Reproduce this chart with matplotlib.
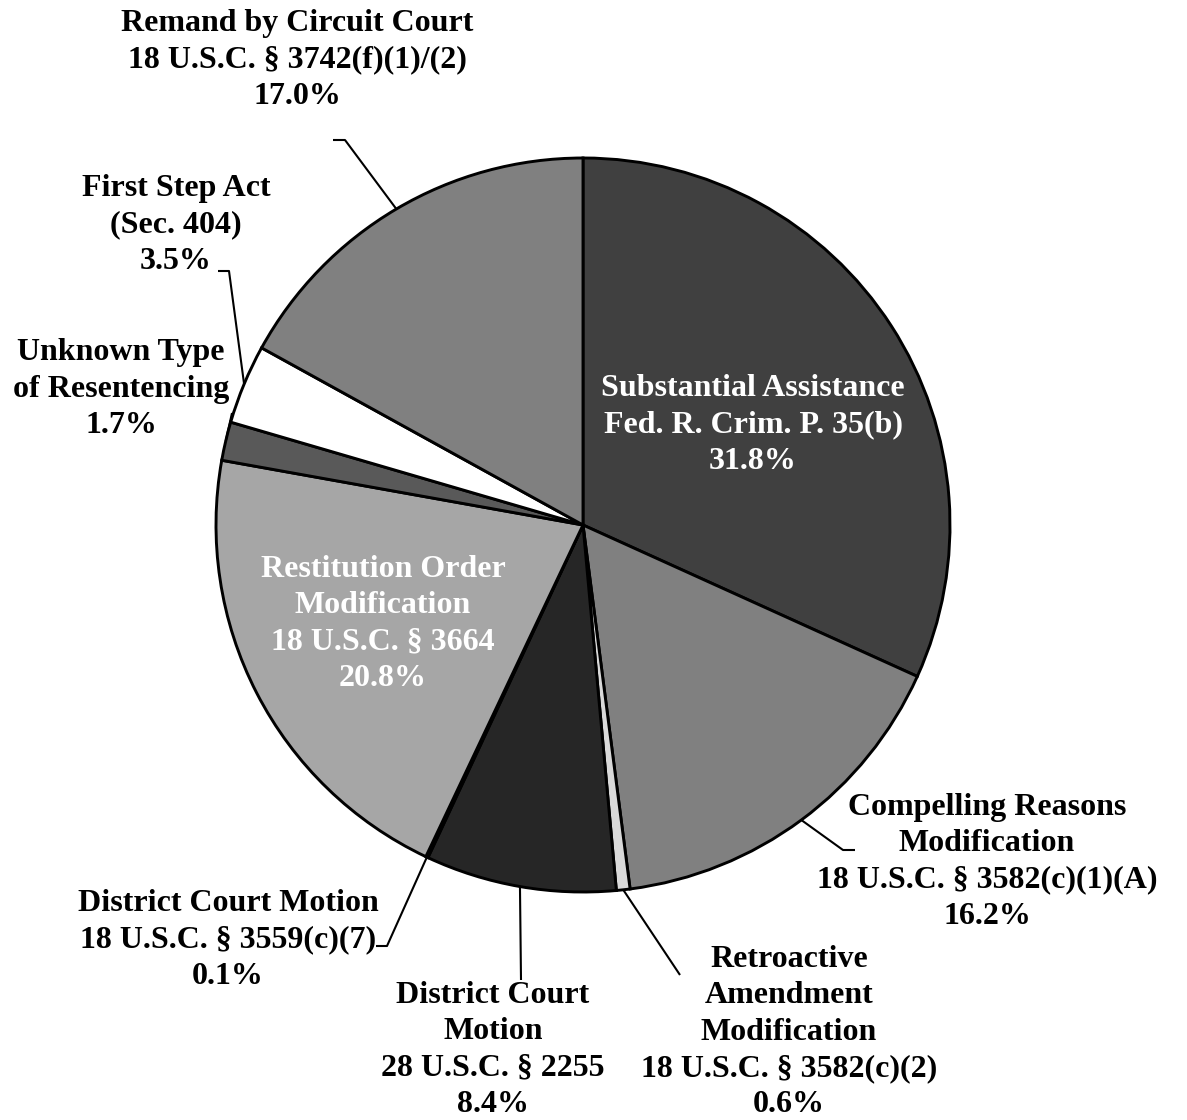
import numpy as np
import matplotlib.pyplot as plt

plt.rcParams['font.family'] = ['Liberation Serif', 'DejaVu Serif']

# slices clockwise from 12 o'clock
labels = [
    "Substantial Assistance\nFed. R. Crim. P. 35(b)\n31.8%",
    "Compelling Reasons\nModification\n18 U.S.C. § 3582(c)(1)(A)\n16.2%",
    "Retroactive\nAmendment\nModification\n18 U.S.C. § 3582(c)(2)\n0.6%",
    "District Court\nMotion\n28 U.S.C. § 2255\n8.4%",
    "District Court Motion\n18 U.S.C. § 3559(c)(7)\n0.1%",
    "Restitution Order\nModification\n18 U.S.C. § 3664\n20.8%",
    "Unknown Type\nof Resentencing\n1.7%",
    "First Step Act\n(Sec. 404)\n3.5%",
    "Remand by Circuit Court\n18 U.S.C. § 3742(f)(1)/(2)\n17.0%",
]
shares = [31.8, 16.2, 0.6, 8.4, 0.1, 20.8, 1.7, 3.5, 17.0]
colors = ['#404040', '#808080', '#d9d9d9', '#262626', '#000000',
          '#a6a6a6', '#595959', '#ffffff', '#808080']

W, H = 1187, 1120
fig = plt.figure(figsize=(W / 100, H / 100), dpi=100)
ax = fig.add_axes([0, 0, 1, 1])
ax.axis('off')

cx, cy, r = 583, H - 525, 367
ax.pie(shares, colors=colors, startangle=90, counterclock=False,
       center=(cx, cy), radius=r, normalize=True,
       wedgeprops=dict(edgecolor='black', linewidth=2.1))
ax.set_xlim(0, W)
ax.set_ylim(0, H)
ax.set_aspect('equal')

# label centres (pixel coords, top-left origin) and leader-line bends
fs = 23
ls = 1.33
inside = {0: (753, 425), 5: (383, 624)}
outside = {
    1: ((987, 862), [(855, 850), (843, 850)]),
    2: ((789, 1032), [(680, 975)]),
    3: ((493, 1050), [(521, 980)]),
    4: ((228, 940), [(376, 946), (387, 946)]),
    6: ((121, 389), [(232, 413)]),
    7: ((176, 225), [(218, 271), (229, 271)]),
    8: ((297, 60), [(333, 140), (345, 140)]),
}

total = sum(shares)
cum = np.cumsum([0] + shares)
for i, lab in enumerate(labels):
    mid = (cum[i] + cum[i + 1]) / 2 / total * 2 * np.pi
    ex, ey = cx + r * np.sin(mid), cy + r * np.cos(mid)
    if i in inside:
        px, py = inside[i]
        ax.text(px, H - py, lab, ha='center', va='center', color='white',
                fontsize=fs, fontweight='bold', linespacing=ls)
    else:
        (px, py), bends = outside[i]
        ax.text(px, H - py, lab, ha='center', va='center', color='black',
                fontsize=fs, fontweight='bold', linespacing=ls)
        pts = [(ex, ey)] + [(bx, H - by) for bx, by in reversed(bends)]
        xs, ys = zip(*pts)
        ax.plot(xs, ys, color='black', lw=1.5, solid_capstyle='butt')

fig.savefig('out.png', dpi=100)
